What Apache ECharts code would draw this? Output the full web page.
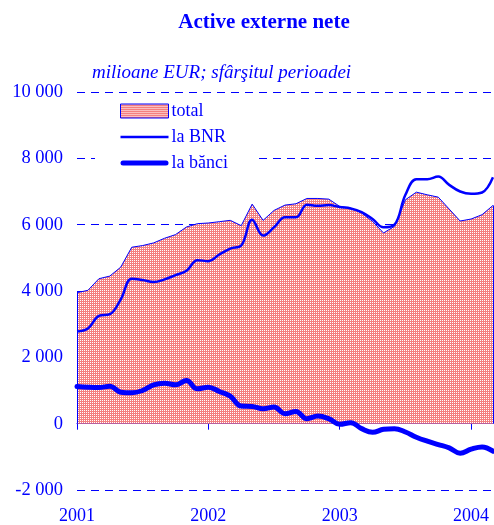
<!DOCTYPE html>
<html>
<head>
<meta charset="utf-8">
<style>
  html, body { margin: 0; padding: 0; background: #fff; }
  #chart { width: 494px; height: 525px; }
</style>
<script src="https://cdn.jsdelivr.net/npm/echarts@6/dist/echarts.min.js"></script>
</head>
<body>
<div id="chart"></div>
<script>
// Monthly periods, Jan 2001 - Mar 2004
const months = [
  '2001-01','2001-02','2001-03','2001-04','2001-05','2001-06','2001-07','2001-08','2001-09','2001-10','2001-11','2001-12',
  '2002-01','2002-02','2002-03','2002-04','2002-05','2002-06','2002-07','2002-08','2002-09','2002-10','2002-11','2002-12',
  '2003-01','2003-02','2003-03','2003-04','2003-05','2003-06','2003-07','2003-08','2003-09','2003-10','2003-11','2003-12',
  '2004-01','2004-02','2004-03'
];

// Net foreign assets, million EUR, end of period
const total = [
  3950, 4020, 4370, 4450, 4720, 5320, 5370, 5450, 5590, 5700, 5930, 6030,
  6050, 6090, 6130, 5970, 6620, 6130, 6430, 6590, 6630, 6790, 6790, 6770,
  6550, 6500, 6350, 6100, 5750, 5950, 6750, 6980, 6900, 6830, 6470, 6110,
  6170, 6300, 6580
];
const bnr = [
  2780, 2870, 3250, 3300, 3750, 4370, 4330, 4270, 4350, 4480, 4610, 4930,
  4900, 5100, 5280, 5370, 6150, 5670, 5920, 6220, 6220, 6600, 6570, 6590,
  6530, 6490, 6380, 6170, 5920, 6000, 6900, 7370, 7370, 7450, 7200, 7000,
  6930, 6970, 7430
];
const banci = [
  1120, 1100, 1090, 1130, 950, 930, 1000, 1170, 1220, 1170, 1300, 1050,
  1100, 970, 830, 530, 520, 450, 500, 300, 370, 150, 230, 150,
  -20, 30, -150, -260, -170, -150, -250, -410, -530, -630, -730, -890,
  -770, -700, -830
];

const yTicks = { min: -2000, max: 10000, step: 2000 };
const names = ['total', 'la BNR', 'la bănci'];

const BLUE = '#0000ff';
const FONT = '"Liberation Serif", "Times New Roman", serif';

// Fine red grid used as the area fill
function gridPattern() {
  const c = document.createElement('canvas');
  c.width = 2; c.height = 2;
  const g = c.getContext('2d');
  g.fillStyle = '#f47f7f';
  g.fillRect(0, 0, 2, 2);
  g.fillStyle = '#ffffff';
  g.fillRect(0, 0, 1, 1);
  return c;
}
const fillPattern = { image: gridPattern(), repeat: 'repeat' };

const last = months.length - 1;

// Legend line icons: plain strokes without markers
const thinIcon = 'path://M0,0 L48,0 L48,2.5 L0,2.5 Z';
const thickIcon = 'path://M2.5,0 L45.5,0 A2.5,2.5 0 0 1 45.5,5 L2.5,5 A2.5,2.5 0 0 1 2.5,0 Z';

const chart = echarts.init(document.getElementById('chart'), null, { renderer: 'canvas' });
chart.setOption({
  animation: false,
  backgroundColor: '#ffffff',
  textStyle: { fontFamily: FONT, color: BLUE },
  graphic: [
    {
      type: 'text', x: 264, y: 12,
      style: { text: 'Active externe nete', textAlign: 'center', fill: BLUE,
               font: 'bold 21px ' + FONT }
    },
    {
      type: 'text', x: 92, y: 63,
      style: { text: 'milioane EUR; sfârşitul perioadei', textAlign: 'left', fill: BLUE,
               font: 'italic 19px ' + FONT }
    }
  ],
  legend: {
    orient: 'vertical',
    left: 95, top: 94,
    padding: [8, 30, 20, 25],
    backgroundColor: '#ffffff',
    itemWidth: 48, itemHeight: 14, itemGap: 8,
    symbolKeepAspect: true,
    textStyle: { fontFamily: FONT, fontSize: 18, color: BLUE, padding: [0, 0, 0, -2] },
    data: [
      { name: names[0], icon: 'rect',
        itemStyle: { color: fillPattern, borderColor: BLUE, borderWidth: 1 } },
      { name: names[1], icon: thinIcon, itemStyle: { color: BLUE, borderWidth: 0 } },
      { name: names[2], icon: thickIcon, itemStyle: { color: BLUE, borderWidth: 0 } }
    ]
  },
  grid: { left: 77, right: 1, top: 92, bottom: 33, containLabel: false },
  xAxis: [
    {
      type: 'category', data: months, boundaryGap: false,
      axisLine: { onZero: true, lineStyle: { color: BLUE, width: 1 } },
      axisTick: { show: true, inside: false, length: 6, interval: 11,
                  lineStyle: { color: BLUE, width: 1 } },
      axisLabel: { show: false },
      splitLine: { show: false }
    },
    {
      type: 'category', data: months, boundaryGap: false, position: 'bottom',
      axisLine: { show: false, onZero: false },
      axisTick: { show: false },
      axisLabel: { show: true, interval: 11, margin: 17, color: BLUE,
                   fontFamily: FONT, fontSize: 18,
                   formatter: v => v.slice(0, 4) },
      splitLine: { show: false }
    }
  ],
  yAxis: {
    type: 'value', min: yTicks.min, max: yTicks.max, interval: yTicks.step,
    axisLine: { show: false }, axisTick: { show: false },
    axisLabel: { margin: 14, color: BLUE, fontFamily: FONT, fontSize: 18.5,
                 formatter: v => {
                   const s = Math.abs(v).toString().replace(/\B(?=(\d{3})+(?!\d))/g, ' ');
                   return (v < 0 ? '-' : '') + s;
                 } },
    splitLine: { show: true, lineStyle: { color: BLUE, width: 1, type: [8, 6] } }
  },
  series: [
    {
      name: names[0], type: 'line', data: total, xAxisIndex: 0,
      symbol: 'none', smooth: false,
      lineStyle: { color: BLUE, width: 1 },
      itemStyle: { color: BLUE },
      areaStyle: { color: fillPattern, opacity: 1, origin: 0 },
      markLine: {
        silent: true, symbol: 'none', label: { show: false },
        lineStyle: { color: BLUE, width: 1, type: 'solid' },
        data: [
          [{ coord: [months[0], 0] }, { coord: [months[0], total[0]] }],
          [{ coord: [months[last], 0] }, { coord: [months[last], total[last]] }]
        ]
      },
      z: 2
    },
    {
      name: names[1], type: 'line', data: bnr, xAxisIndex: 0,
      symbol: 'none', smooth: 0.4,
      lineStyle: { color: BLUE, width: 2.5 },
      itemStyle: { color: BLUE },
      z: 3
    },
    {
      name: names[2], type: 'line', data: banci, xAxisIndex: 0,
      symbol: 'none', smooth: 0.4,
      lineStyle: { color: BLUE, width: 5, cap: 'round' },
      itemStyle: { color: BLUE },
      z: 4
    }
  ]
});
</script>
</body>
</html>
